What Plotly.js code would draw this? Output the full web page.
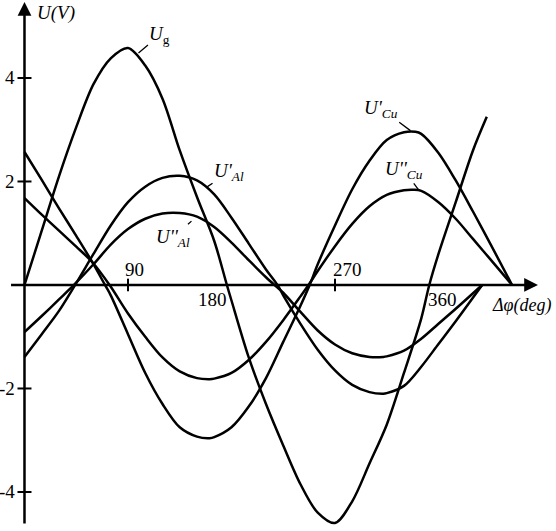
<!DOCTYPE html>
<html>
<head>
<meta charset="utf-8">
<script src="https://cdn.plot.ly/plotly-3.0.1.min.js"></script>
<style>html,body{margin:0;padding:0;background:#fff;}#chart{width:556px;height:531px;}</style>
</head>
<body>
<div id="chart"></div>
<script>
// ---- data (phase shift in degrees, voltage in V) ----
const ugDeg = [0,15,30,45,60,75,90,105,120,135,150,165,176,180,195,210,225,240,255,270,285,300,315,330,345,352,360,375,390,402];
const ugVal = [0,1.05,2.1,3.05,3.88,4.38,4.58,4.24,3.6,2.6,1.7,0.85,0,-0.3,-1.4,-2.3,-3.1,-3.85,-4.4,-4.6,-4.18,-3.45,-2.7,-1.7,-0.65,0,0.6,1.6,2.6,3.25];

const cu1Deg = [0,15,30,45,59,70,75,90,105,120,135,150,161,165,180,195,210,225,240,248,255,270,285,300,315,330,340,345,360,375,390,405,424];
const cu1Val = [2.57,2.03,1.48,0.95,0.44,0,-0.2,-0.95,-1.7,-2.3,-2.75,-2.93,-2.96,-2.94,-2.75,-2.35,-1.8,-1.1,-0.4,0,0.4,1.15,1.85,2.4,2.8,2.95,2.96,2.92,2.55,2.02,1.42,0.8,0];

const cu2Deg = [0,15,30,45,59,74,90,105,120,135,150,161,165,180,195,210,225,240,247,255,270,285,300,315,330,338,345,360,375,390,405,424];
const cu2Val = [1.68,1.36,1.05,0.74,0.44,0,-0.55,-1.0,-1.4,-1.67,-1.8,-1.82,-1.81,-1.7,-1.45,-1.1,-0.68,-0.22,0,0.27,0.75,1.18,1.52,1.74,1.83,1.84,1.82,1.6,1.28,0.89,0.5,0];

const al1Deg = [0,15,30,44,60,75,90,105,120,135,150,165,180,195,210,220,225,240,255,270,285,300,312,315,330,345,360,375,398];
const al1Val = [-1.39,-0.95,-0.5,0,0.6,1.15,1.6,1.9,2.07,2.11,2.02,1.75,1.3,0.8,0.3,0,-0.2,-0.75,-1.25,-1.65,-1.93,-2.07,-2.1,-2.09,-1.95,-1.58,-1.14,-0.7,0];

const al2Deg = [0,15,30,43,60,75,90,105,120,135,150,165,180,195,210,220,225,240,255,270,285,300,312,315,330,345,360,375,398];
const al2Val = [-0.91,-0.6,-0.28,0,0.4,0.78,1.08,1.28,1.38,1.39,1.32,1.12,0.82,0.48,0.15,-0.05,-0.15,-0.52,-0.88,-1.15,-1.32,-1.39,-1.39,-1.38,-1.27,-1.04,-0.75,-0.46,0];

const xTickVals = [90, 180, 270, 360];
const xTickText = ['90', '180', '270', '360'];
const yTickVals = [4, 2, -2, -4];
const yTickText = ['4', '2', '-2', '-4'];

const curveLabels = [
  {text: '<i>U</i><sub>g</sub>', x: 97.8, y: 4.46},
  {text: "<i>U'</i><sub><i>Al</i></sub>", x: 157, y: 1.87},
  {text: "<i>U''</i><sub><i>Al</i></sub>", x: 146.5, y: 1.26},
  {text: "<i>U'</i><sub><i>Cu</i></sub>", x: 337, y: 2.96},
  {text: "<i>U''</i><sub><i>Cu</i></sub>", x: 343.9, y: 1.80}
];
// ---- styling / layout ----
const FONT = 'Liberation Serif, Times New Roman, serif';
const labelOffsets = [[23,-19],[24,-16],[-20,18],[-31,-23],[-16,-22]];
const xLabelShift = [[7,15],[-19,-15],[13,15],[4,-15]];

const lineStyle = {color: '#000', width: 2.5, shape: 'spline', smoothing: 0.9};
function curve(x, y){ return {x: x, y: y, mode: 'lines', line: lineStyle, hoverinfo: 'skip', showlegend: false}; }

const traces = [
  curve(ugDeg, ugVal), curve(cu1Deg, cu1Val), curve(cu2Deg, cu2Val),
  curve(al1Deg, al1Val), curve(al2Deg, al2Val),
  {x: yTickVals.map(() => 0), y: yTickVals, mode: 'markers', showlegend: false, hoverinfo: 'skip',
   marker: {symbol: 'line-ew', size: 10, color: '#000', line: {color: '#000', width: 2}}},
  {x: [xTickVals[0], xTickVals[2]], y: [0, 0], mode: 'markers', showlegend: false, hoverinfo: 'skip',
   marker: {symbol: 'line-ns', size: 9, color: '#000', line: {color: '#000', width: 2}}}
];

const ann = [];
// axes with arrowheads
ann.push({xref:'x', yref:'y', axref:'x', ayref:'y', x: 446.5, y: 0, ax: -14.3, ay: 0, text: ' ',
  showarrow: true, arrowhead: 2, arrowsize: 1.1, arrowwidth: 2.5, arrowcolor: '#000'});
ann.push({xref:'x', yref:'y', axref:'x', ayref:'y', x: 0, y: 5.47, ax: 0, ay: -4.8, text: ' ',
  showarrow: true, arrowhead: 2, arrowsize: 1.1, arrowwidth: 2.5, arrowcolor: '#000'});
// tick labels
xTickVals.forEach((v, i) => ann.push({xref:'x', yref:'y', x: v, y: 0, text: xTickText[i], showarrow: false,
  xshift: xLabelShift[i][0], yshift: xLabelShift[i][1], font: {family: FONT, size: 19, color: '#000'}}));
yTickVals.forEach((v, i) => ann.push({xref:'x', yref:'y', x: 0, y: v, text: yTickText[i], showarrow: false,
  xanchor: 'right', xshift: -7, font: {family: FONT, size: 19, color: '#000'}}));
// curve labels with leader lines
curveLabels.forEach((c, i) => ann.push({xref:'x', yref:'y', x: c.x, y: c.y, text: c.text, showarrow: true,
  arrowhead: 0, arrowwidth: 1.3, arrowcolor: '#000', ax: labelOffsets[i][0], ay: labelOffsets[i][1], standoff: 2,
  font: {family: FONT, size: 19, color: '#000'}}));
// axis titles
ann.push({xref:'paper', yref:'paper', x: 35/556, y: 1, xanchor: 'left', yanchor: 'top', showarrow: false,
  text: '<i>U(V)</i>', font: {family: FONT, size: 19, color: '#000'}});
ann.push({xref:'paper', yref:'paper', x: 490/556, y: 1 - 305/531, xanchor: 'left', yanchor: 'middle', showarrow: false,
  text: '<i>Δφ(deg)</i>', font: {family: FONT, size: 18, color: '#000'}});

const layout = {
  width: 556, height: 531,
  margin: {l: 0, r: 0, t: 0, b: 0},
  paper_bgcolor: '#fff', plot_bgcolor: '#fff',
  xaxis: {range: [-21.3, 462.2], visible: false, showgrid: false, zeroline: false},
  yaxis: {range: [-4.754, 5.507], visible: false, showgrid: false, zeroline: false},
  annotations: ann,
  showlegend: false
};
Plotly.newPlot('chart', traces, layout, {staticPlot: true});
</script>
</body>
</html>
